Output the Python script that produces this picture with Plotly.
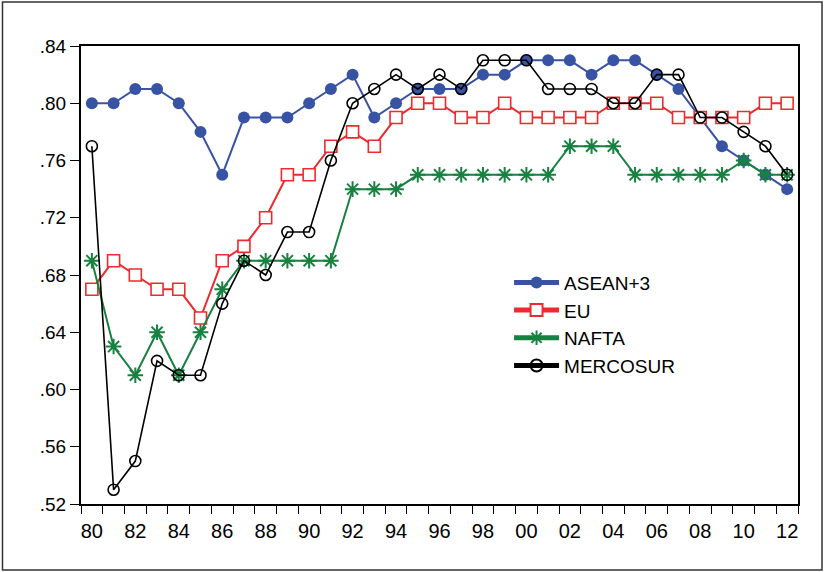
import plotly.graph_objects as go

years = list(range(1980, 2013))

asean3 = [0.80, 0.80, 0.81, 0.81, 0.80, 0.78, 0.75, 0.79, 0.79, 0.79, 0.80,
          0.81, 0.82, 0.79, 0.80, 0.81, 0.81, 0.81, 0.82, 0.82, 0.83, 0.83,
          0.83, 0.82, 0.83, 0.83, 0.82, 0.81, 0.79, 0.77, 0.76, 0.75, 0.74]
eu = [0.67, 0.69, 0.68, 0.67, 0.67, 0.65, 0.69, 0.70, 0.72, 0.75, 0.75,
      0.77, 0.78, 0.77, 0.79, 0.80, 0.80, 0.79, 0.79, 0.80, 0.79, 0.79,
      0.79, 0.79, 0.80, 0.80, 0.80, 0.79, 0.79, 0.79, 0.79, 0.80, 0.80]
nafta = [0.69, 0.63, 0.61, 0.64, 0.61, 0.64, 0.67, 0.69, 0.69, 0.69, 0.69,
         0.69, 0.74, 0.74, 0.74, 0.75, 0.75, 0.75, 0.75, 0.75, 0.75, 0.75,
         0.77, 0.77, 0.77, 0.75, 0.75, 0.75, 0.75, 0.75, 0.76, 0.75, 0.75]
mercosur = [0.77, 0.53, 0.55, 0.62, 0.61, 0.61, 0.66, 0.69, 0.68, 0.71, 0.71,
            0.76, 0.80, 0.81, 0.82, 0.81, 0.82, 0.81, 0.83, 0.83, 0.83, 0.81,
            0.81, 0.81, 0.80, 0.80, 0.82, 0.82, 0.79, 0.79, 0.78, 0.77, 0.75]

x_tick_years = list(range(1980, 2013, 2))
x_tick_text = [str(y)[-2:] for y in x_tick_years]
y_ticks = [0.52, 0.56, 0.60, 0.64, 0.68, 0.72, 0.76, 0.80, 0.84]
y_tick_text = ["." + f"{v:.2f}"[2:] for v in y_ticks]

BLUE = "#3953A4"
RED = "#EE2A2F"
GREEN = "#178140"
BLACK = "#000000"

fig = go.Figure()
fig.add_trace(go.Scatter(
    x=years, y=asean3, name="ASEAN+3", mode="lines+markers",
    line=dict(color=BLUE, width=2),
    marker=dict(symbol="circle", size=12, color=BLUE),
))
fig.add_trace(go.Scatter(
    x=years, y=eu, name="EU", mode="lines+markers",
    line=dict(color=RED, width=2),
    marker=dict(symbol="square", size=12, color="white",
                line=dict(color=RED, width=1.6)),
))
fig.add_trace(go.Scatter(
    x=years, y=nafta, name="NAFTA", mode="lines+markers",
    line=dict(color=GREEN, width=2),
    marker=dict(symbol="asterisk-open", size=13,
                line=dict(color=GREEN, width=2)),
))
fig.add_trace(go.Scatter(
    x=years, y=mercosur, name="MERCOSUR", mode="lines+markers",
    line=dict(color=BLACK, width=1.6),
    marker=dict(symbol="circle-open", size=11, color=BLACK,
                line=dict(color=BLACK, width=1.6)),
))

font = dict(family="Liberation Sans, Arial, sans-serif", size=19, color="black")

fig.update_layout(
    width=824, height=572,
    margin=dict(l=81, r=26, t=46, b=68),
    paper_bgcolor="white", plot_bgcolor="white",
    font=font,
    showlegend=True,
    legend=dict(
        x=0.597, y=0.525, xanchor="left", yanchor="top",
        bgcolor="rgba(0,0,0,0)", font=dict(size=19),
        tracegroupgap=0, itemsizing="constant", itemwidth=45,
    ),
    xaxis=dict(
        range=[1979.5, 2012.5],
        tickmode="array", tickvals=x_tick_years, ticktext=x_tick_text,
        ticks="", ticklabelstandoff=8,
        minor=dict(tick0=1979.5, dtick=1, ticks="outside", ticklen=8,
                   tickwidth=1, tickcolor="black", showgrid=False),
        showgrid=False, zeroline=False,
        showline=True, linecolor="black", linewidth=2, mirror=True,
        tickfont=dict(size=20),
    ),
    yaxis=dict(
        range=[0.52, 0.84],
        tickmode="array", tickvals=y_ticks, ticktext=y_tick_text,
        ticks="outside", ticklen=9, tickwidth=1, tickcolor="black",
        showgrid=False, zeroline=False,
        showline=True, linecolor="black", linewidth=2, mirror=True,
        tickfont=dict(size=19),
    ),
    shapes=[dict(
        type="rect", xref="paper", yref="paper",
        x0=-0.1095, x1=1.0335, y0=-0.144, y1=1.096,
        line=dict(color="#333333", width=1.5), fillcolor="rgba(0,0,0,0)",
        layer="below",
    )],
)

fig.write_html("out.html")
